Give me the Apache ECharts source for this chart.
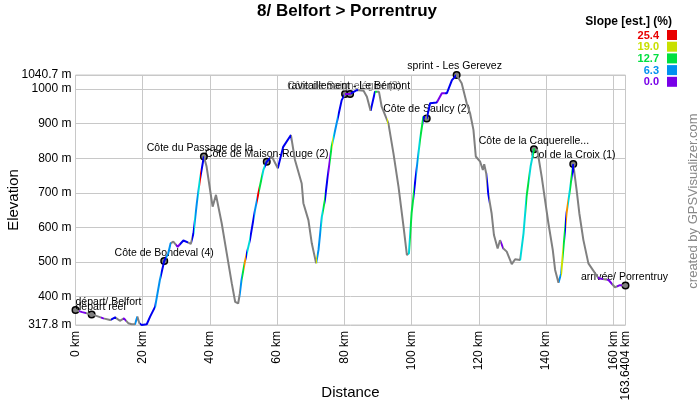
<!DOCTYPE html>
<html>
<head>
<meta charset="utf-8">
<style>html,body{margin:0;padding:0;background:#fff}#main{width:700px;height:400px}</style>
<script src="https://cdn.jsdelivr.net/npm/echarts@6/dist/echarts.min.js"></script>
</head>
<body>
<div id="main"></div>
<script>
// profile: distance (km), elevation (m)
const distance = [0,1,2,4.8,6,8.3,10.3,11.8,13.2,14.4,15.7,16.7,17.7,18.4,19,19.7,21.2,22.2,23.7,25.1,26.4,27.6,28.3,29.1,30.4,32.1,33.6,34.3,35.1,36.1,37,38.2,39,40.2,40.8,41.8,43.5,45,46.5,47.5,48.4,48.9,49.4,50.4,51.9,53.4,54.4,55.9,56.9,58.4,60.2,61.8,64.1,65.3,67.3,67.8,69.3,70.3,71.6,72.3,73.3,74.2,74.9,76.2,77.7,79.2,80.2,81.7,83.7,85.7,86.7,87.8,89.1,90.3,91.1,93.1,94.6,96.1,97.6,98.6,99.2,100,101,102.5,103.5,104.5,105.5,107.5,109,110.5,112,113.4,114.9,116.4,117.4,118.4,119.1,120.4,121.2,121.6,122.2,122.8,123.8,124.5,125.6,126.3,127.3,128.3,129.8,130.8,132.3,133.3,134.2,135.4,136.4,137.4,138.7,139.7,140.7,142,142.7,143.7,144.5,145.2,146.1,147.1,148.1,149.1,149.9,151.1,152.6,155.6,158.6,160.5,162,163.6404];
const elevation = [361,358,355,348,345,337,332,340,330,337,323,320,320,342,323,318,320,342,371,448,503,525,554,559,544,562,556,552,583,670,737,805,776,698,660,694,612,525,438,385,380,409,448,501,564,650,698,766,790,805,771,833,867,795,727,670,621,554,496,535,631,679,737,833,901,968,986,986,997,995,978,937,992,992,949,901,814,718,602,520,525,641,727,853,920,915,959,961,988,988,1026,1040.7,1017,959,930,882,805,790,766,783,756,698,641,578,539,563,539,530,494,508,506,583,689,776,826,824,747,679,612,535,477,440,467,544,641,708,783,708,641,564,496,453,448,427,433,432];

// stretches of the route drawn in a slope colour: from km, to km, slope class
const bandFrom  = [1,7.5,10.5,14,17.7,19.2,22,23.7,25.5,27,30,31,34.7,35.3,35.7,36.5,37,37.3,49,49.5,50,50.7,51,52,53,54,54.5,55.5,56.5,60.2,71.6,72,73,73.6,74.2,75,75.6,76.2,76.6,77,78,80.2,82,87.8,89,92.6,99,99.6,100.6,101.2,102,102.6,103.5,104.5,106,107.5,110,122.4,126.6,132.3,134,135,136,143.9,144.5,145,145.5,146,146.6,147.1,147.6,155.5,158,161];
const bandTo    = [3,8.5,12,15,18.4,22,23.7,25.5,27,28.4,31,33.5,35.3,35.7,36.5,37,37.3,38.2,49.5,50,50.7,51,52,53,54,54.5,55.5,56.5,58,64,72,73,73.6,74.2,75,75.6,76.2,76.6,77,78,79.8,82,84,89,89.6,93,99.6,100.6,101.2,102,102.6,103.5,104,106,107.5,110,113.2,122.9,127.2,134,135,136,136.6,144.5,145,145.5,146,146.6,147.1,147.6,148.2,157,159.5,162.5];
const bandClass = [0,0,1,0,2,1,1,2,1,2,0,1,1,3,2,3,5,1,2,4,6,1,3,1,2,5,4,3,1,1,7,2,3,4,1,0,4,7,3,2,1,0,1,1,4,7,3,4,1,2,3,4,1,1,1,0,1,1,0,3,4,3,4,2,7,4,1,6,3,4,1,0,0,0];
const bandColors = ['#7800e8','#0000f0','#0090f0','#00d8d8','#00e040','#e80000','#f09000','#c8e000'];

const waypointNames = ['départ/ Belfort','départ réel','Côte de Bondeval (4)','Côte du Passage de la','Côte de Maison-Rouge (2)','Côte de Saignelégier (3)','ravitaillement - Le Bémont','Côte de Saulcy (2)','sprint - Les Gerevez','Côte de la Caquerelle...','Col de la Croix (1)','arrivée/ Porrentruy'];
const waypointKm = [0,4.8,26.4,38.2,56.9,80.2,81.7,104.5,113.4,136.4,148.1,163.6404];
const waypointElevation = [361,348,503,805,790,986,986,915,1040.7,826,783,432];

const yTicks = [317.8,400,500,600,700,800,900,1000,1040.7];
const xTicks = [0,20,40,60,80,100,120,140,160,163.6404];
const slopeLabels = ['25.4','19.0','12.7','6.3','0.0'];

// layout only, one entry per waypoint
const labelDx = [33,9,0,-4,0,-1,-1,0,-2,0,0,-1];
const labelDy = [-8,-7,-8,-8,-8,-8,-8,-9,-9,-8,-9,-8];
const labelColor = ['#000','#000','#000','#000','#000','#777','#000','#000','#000','#000','#000','#000'];
const slopeSwatch = ['#e80000','#c8e000','#00e040','#0090f0','#7800e8'];

const FONT = '"Liberation Sans", Arial, sans-serif';
const chart = echarts.init(document.getElementById('main'), null, {renderer:'canvas'});

let pieces = bandFrom.map((f,i)=>({gte:f, lt:bandTo[i], color:bandColors[bandClass[i]]}));

let legendItems = [{
  type:'text', right:28, top:16,
  style:{text:'Slope [est.] (%)', font:'bold 12px '+FONT, fill:'#000'}
}];
slopeLabels.forEach((t,i)=>{
  legendItems.push({type:'text', right:41, top:30+i*11.7,
    style:{text:t, font:'bold 11px '+FONT, fill:slopeSwatch[i]}});
  legendItems.push({type:'rect', shape:{x:667,y:30+i*11.7,width:10,height:10},
    style:{fill:slopeSwatch[i]}});
});

const option = {
  animation:false,
  backgroundColor:'#fff',
  textStyle:{fontFamily:FONT},
  title:{text:'8/ Belfort > Porrentruy', left:342, top:-2, textAlign:'center',
    textStyle:{fontFamily:FONT, fontSize:17, fontWeight:'bold', color:'#000'}},
  grid:{left:75.5, right:74.5, top:75, bottom:75, show:true, borderColor:'#c8c8c8', borderWidth:1, outerBoundsMode:'none'},
  xAxis:{
    type:'value', min:0, max:163.6404,
    name:'Distance', nameLocation:'middle', nameGap:60, nameMoveOverlap:false,
    nameTextStyle:{fontSize:15, color:'#000', fontFamily:FONT},
    axisLine:{show:false}, axisTick:{show:false, customValues:xTicks},
    axisLabel:{rotate:90, color:'#000', fontSize:12, margin:6, customValues:xTicks,
      hideOverlap:false, formatter:v=>v+' km'},
    splitLine:{show:true, lineStyle:{color:'#c8c8c8', width:1}}
  },
  yAxis:{
    type:'value', min:317.8, max:1040.7,
    name:'Elevation', nameLocation:'middle', nameGap:54, nameMoveOverlap:false,
    nameTextStyle:{fontSize:15, color:'#000', fontFamily:FONT},
    axisLine:{show:false}, axisTick:{show:false, customValues:yTicks},
    axisLabel:{color:'#000', fontSize:12, margin:4, customValues:yTicks, hideOverlap:false, formatter:v=>v+' m'},
    splitLine:{show:true, lineStyle:{color:'#c8c8c8', width:1}}
  },
  visualMap:{show:false, type:'piecewise', seriesIndex:0, dimension:0, pieces:pieces, outOfRange:{color:'#808080'}},
  series:[{
    type:'line', showSymbol:false, symbol:'none', silent:true, clip:false,
    lineStyle:{width:2},
    data:distance.map((d,i)=>[d,elevation[i]])
  },{
    type:'scatter', symbol:'circle', symbolSize:6.5, silent:true, clip:false,
    itemStyle:{color:'#808080', borderColor:'#000', borderWidth:1.5, opacity:1},
    data:waypointKm.map((k,i)=>({
      value:[k,waypointElevation[i]],
      label:{show:true, position:'inside', formatter:waypointNames[i], color:labelColor[i],
        fontSize:10.5, fontFamily:FONT, offset:[labelDx[i],labelDy[i]]}
    }))
  }],
  graphic:{elements:legendItems.concat([{
    type:'text', x:693, y:201, rotation:Math.PI/2,
    style:{text:'created by GPSVisualizer.com', font:'13px '+FONT, fill:'#888', align:'center', verticalAlign:'middle'}
  }])}
};
chart.setOption(option);
</script>
</body>
</html>
